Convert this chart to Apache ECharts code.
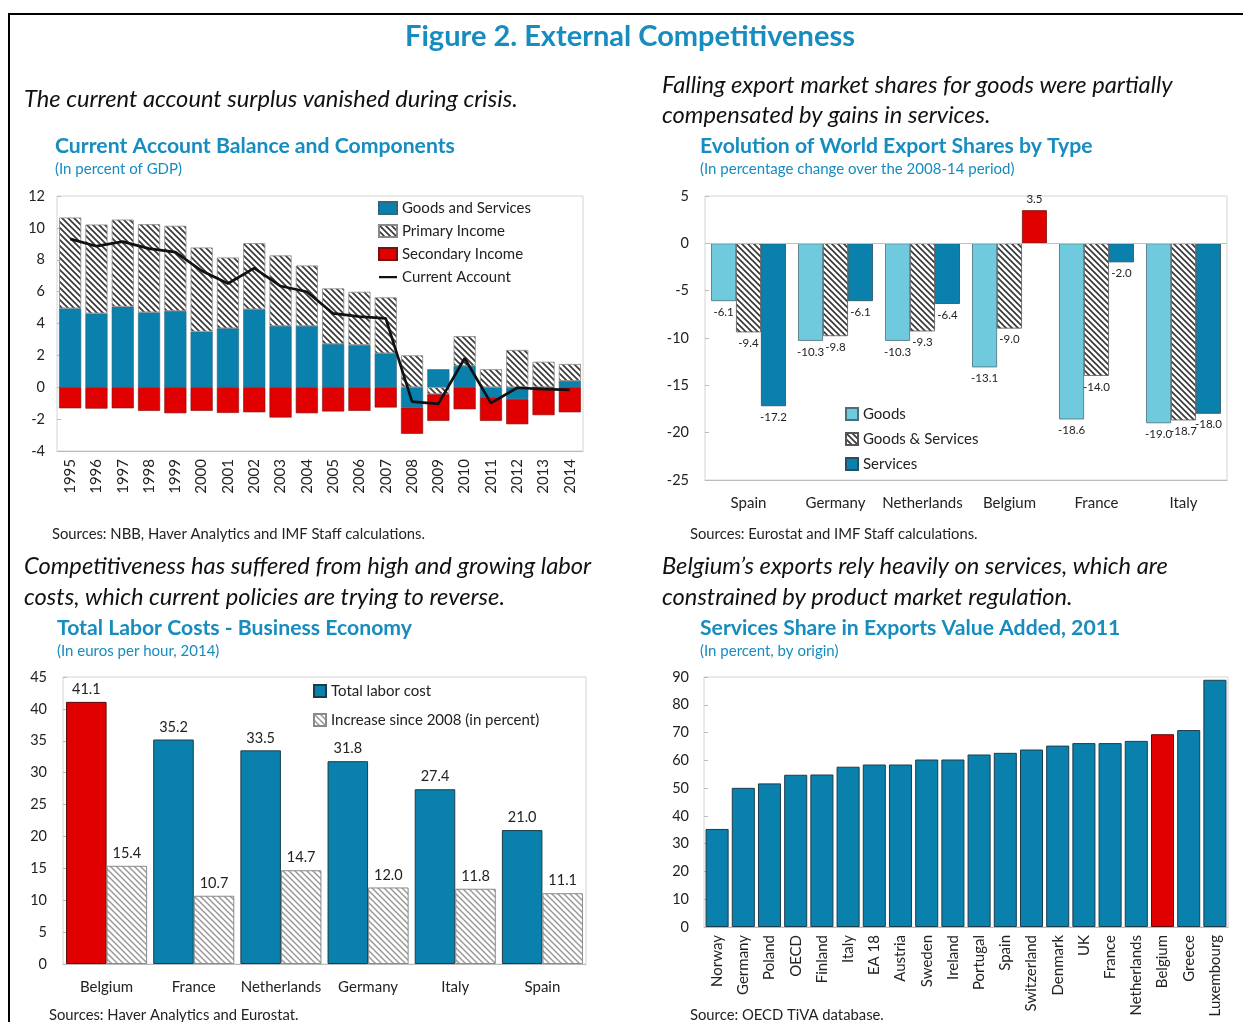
<!DOCTYPE html>
<html>
<head>
<meta charset="utf-8">
<script src="https://cdn.jsdelivr.net/npm/echarts@6/dist/echarts.min.js"></script>
<style>
  body { margin: 0; background: #fff; }
  #main { width: 1243px; height: 1022px; }
</style>
</head>
<body>
<div id="main"></div>
<script>
// 经常账户
const years = ['1995', '1996', '1997', '1998', '1999', '2000', '2001', '2002', '2003', '2004',
  '2005', '2006', '2007', '2008', '2009', '2010', '2011', '2012', '2013', '2014'];
const goodsServices = [4.95, 4.63, 5.05, 4.7, 4.78, 3.49, 3.7, 4.89, 3.84, 3.84,
  2.71, 2.65, 2.13, -1.27, 1.13, 1.34, -0.63, -0.75, -0.02, 0.4];
const primaryIncome = [5.7, 5.58, 5.47, 5.53, 5.35, 5.28, 4.44, 4.15, 4.43, 3.8,
  3.49, 3.34, 3.51, 2.0, -0.44, 1.87, 1.13, 2.34, 1.6, 1.06];
const secondaryIncome = [-1.32, -1.34, -1.32, -1.48, -1.63, -1.48, -1.61, -1.57, -1.9, -1.63,
  -1.52, -1.48, -1.27, -1.65, -1.67, -1.38, -1.48, -1.57, -1.73, -1.57];
const currentAccount = [9.31, 8.85, 9.14, 8.7, 8.48, 7.31, 6.51, 7.47, 6.35, 5.99,
  4.63, 4.43, 4.32, -0.9, -1.04, 1.82, -1.0, -0.03, -0.12, -0.17];

// 出口份额
const shareCountries = ['Spain', 'Germany', 'Netherlands', 'Belgium', 'France', 'Italy'];
const shareGoods = [-6.1, -10.3, -10.3, -13.1, -18.6, -19.0];
const shareGoodsServices = [-9.4, -9.8, -9.3, -9.0, -14.0, -18.7];
const shareServices = [-17.2, -6.1, -6.4, 3.5, -2.0, -18.0];

// 劳动力成本
const laborCountries = ['Belgium', 'France', 'Netherlands', 'Germany', 'Italy', 'Spain'];
const laborCost = [41.1, 35.2, 33.5, 31.8, 27.4, 21.0];
const laborIncrease = [15.4, 10.7, 14.7, 12.0, 11.8, 11.1];

// 服务业占比
const tivaCountries = ['Norway', 'Germany', 'Poland', 'OECD', 'Finland', 'Italy', 'EA 18', 'Austria',
  'Sweden', 'Ireland', 'Portugal', 'Spain', 'Switzerland', 'Denmark', 'UK', 'France',
  'Netherlands', 'Belgium', 'Greece', 'Luxembourg'];
const servicesShare = [35.3, 50.1, 51.7, 54.8, 54.9, 57.7, 58.5, 58.5, 60.3, 60.3, 62.1,
  62.7, 63.9, 65.3, 66.2, 66.2, 67.0, 69.4, 70.9, 89.0];

const FONT = 'Lato';
const TEAL = '#168cbf';
const BLUE = '#0a80ad';
const RED = '#e00000';
const LIGHT = '#6ecadc';

function hatch(line, width) {
  var c = document.createElement('canvas');
  c.width = 6;
  c.height = 6;
  var g = c.getContext('2d');
  g.fillStyle = '#fff';
  g.fillRect(0, 0, 6, 6);
  g.strokeStyle = line;
  g.lineWidth = width;
  g.beginPath();
  g.moveTo(-1, -1); g.lineTo(7, 7);
  g.moveTo(-1, 5); g.lineTo(1, 7);
  g.moveTo(5, -1); g.lineTo(7, 1);
  g.stroke();
  return { image: c, repeat: 'repeat' };
}
const darkHatch = hatch('#3a3a3a', 1.7);
const lightHatch = hatch('#9a9a9a', 1.5);

function txt(x, y, text, font, fill, align) {
  return {
    type: 'text', x: x, y: y, silent: true,
    style: { text: text, font: font, fill: fill || '#111', align: align || 'left', verticalAlign: 'middle' }
  };
}
const italic = 'italic 23.7px ' + FONT;
const head = 'bold 21.2px ' + FONT;
const sub = '15px ' + FONT;
const src = '14.8px ' + FONT;

var chartDom = document.getElementById('main');
var myChart = echarts.init(chartDom);
var option;

function yAx(idx, min, max, interval, margin) {
  return {
    type: 'value', gridIndex: idx, min: min, max: max, interval: interval,
    splitLine: { show: false },
    axisLine: { show: false },
    axisTick: { show: true, inside: true, length: 4, lineStyle: { color: '#bbb' } },
    axisLabel: { fontFamily: FONT, fontSize: 14.5, color: '#222', margin: margin }
  };
}
function xAx(idx, data, rotate, margin) {
  return {
    type: 'category', gridIndex: idx, data: data,
    axisLine: { onZero: false, lineStyle: { color: '#bbb' } },
    axisTick: { show: false },
    axisLabel: { fontFamily: FONT, fontSize: 15, color: '#222', rotate: rotate, margin: margin, interval: 0 }
  };
}
const gridBase = { show: true, borderColor: '#d4d4d4', borderWidth: 1, containLabel: false };
const legendText = { fontFamily: FONT, fontSize: 15, color: '#222', lineHeight: 16 };
// 图例里的细线
const lineIcon = 'path://M0,0 L0.01,0 L0.01,0.01 Z M0,5 H18 V7.2 H0 Z M17.99,12 L18,12 L18,11.99 Z';

option = {
  animation: false,
  backgroundColor: '#fff',
  graphic: [
    { type: 'rect', silent: true, shape: { x: 9, y: 14, width: 1260, height: 1040 },
      style: { fill: 'none', stroke: '#000', lineWidth: 2 } },
    txt(630, 37, 'Figure 2. External Competitiveness', 'bold 29px ' + FONT, TEAL, 'center'),
    txt(24, 99, 'The current account surplus vanished during crisis.', italic),
    txt(662, 85, 'Falling export market shares for goods were partially', italic),
    txt(662, 115, 'compensated by gains in services.', italic),
    txt(55, 146, 'Current Account Balance and Components', head, TEAL),
    txt(55, 169, '(In percent of GDP)', sub, TEAL),
    txt(700, 146, 'Evolution of World Export Shares by Type', head, TEAL),
    txt(700, 169, '(In percentage change over the 2008-14 period)', sub, TEAL),
    txt(52, 534, 'Sources: NBB, Haver Analytics and IMF Staff calculations.', src, '#222'),
    txt(690, 534, 'Sources: Eurostat and IMF Staff calculations.', src, '#222'),
    txt(24, 566, 'Competitiveness has suffered from high and growing labor', italic),
    txt(24, 597, 'costs, which current policies are trying to reverse.', italic),
    txt(662, 566, 'Belgium\u2019s exports rely heavily on services, which are', italic),
    txt(662, 597, 'constrained by product market regulation.', italic),
    txt(57, 628, 'Total Labor Costs - Business Economy', head, TEAL),
    txt(57, 651, '(In euros per hour, 2014)', sub, TEAL),
    txt(700, 628, 'Services Share in Exports Value Added, 2011', head, TEAL),
    txt(700, 651, '(In percent, by origin)', sub, TEAL),
    txt(49, 1015, 'Sources: Haver Analytics and Eurostat.', src, '#222'),
    txt(690, 1015, 'Source: OECD TiVA database.', src, '#222')
  ],
  legend: [
    {
      orient: 'vertical', left: 378, top: 200, padding: 0, itemGap: 7,
      itemWidth: 18, itemHeight: 12, textStyle: legendText, icon: 'rect',
      data: ['Goods and Services', 'Primary Income', 'Secondary Income',
        { name: 'Current Account', icon: lineIcon }]
    },
    {
      orient: 'vertical', left: 845, top: 406, padding: 0, itemGap: 9,
      itemWidth: 12, itemHeight: 12, textStyle: legendText, icon: 'rect',
      data: ['Goods', 'Goods & Services', 'Services']
    },
    {
      orient: 'vertical', left: 313, top: 683, padding: 0, itemGap: 13,
      itemWidth: 12, itemHeight: 12, textStyle: legendText, icon: 'rect',
      data: ['Total labor cost', 'Increase since 2008 (in percent)']
    }
  ],
  grid: [
    Object.assign({ left: 57, top: 196, width: 526, height: 255 }, gridBase),
    Object.assign({ left: 705, top: 196, width: 522, height: 284 }, gridBase),
    Object.assign({ left: 63, top: 677, width: 523, height: 287 }, gridBase),
    Object.assign({ left: 704, top: 677, width: 524, height: 250 }, gridBase)
  ],
  xAxis: [
    xAx(0, years, 90, 8),
    xAx(1, shareCountries, 0, 16),
    xAx(2, laborCountries, 0, 16),
    xAx(3, tivaCountries, 90, 8)
  ],
  yAxis: [
    yAx(0, -4, 12, 2, 12),
    yAx(1, -25, 5, 5, 16),
    yAx(2, 0, 45, 5, 16),
    yAx(3, 0, 90, 10, 15)
  ],
  series: [
    {
      name: 'Goods and Services', type: 'bar', stack: 'ca', xAxisIndex: 0, yAxisIndex: 0,
      barCategoryGap: '16%', data: goodsServices,
      itemStyle: { color: BLUE, borderColor: '#35677c', borderWidth: 0.6 }
    },
    {
      name: 'Primary Income', type: 'bar', stack: 'ca', xAxisIndex: 0, yAxisIndex: 0,
      data: primaryIncome,
      itemStyle: { color: darkHatch, borderColor: '#888', borderWidth: 0.8 }
    },
    {
      name: 'Secondary Income', type: 'bar', stack: 'ca', xAxisIndex: 0, yAxisIndex: 0,
      data: secondaryIncome,
      itemStyle: { color: RED, borderColor: '#7a1010', borderWidth: 0.6 }
    },
    {
      name: 'Current Account', type: 'line', xAxisIndex: 0, yAxisIndex: 0,
      data: currentAccount, symbol: 'none', z: 5,
      lineStyle: { color: '#111', width: 2.7 }, itemStyle: { color: '#111' }
    },
    {
      name: 'Goods', type: 'bar', xAxisIndex: 1, yAxisIndex: 1,
      barGap: '0%', barCategoryGap: '14%', data: shareGoods,
      itemStyle: { color: LIGHT, borderColor: '#4a6f78', borderWidth: 0.8 },
      label: { show: true, position: 'bottom', fontFamily: FONT, fontSize: 11.5, color: '#222',
        formatter: p => p.value.toFixed(1) },
      markLine: {
        silent: true, symbol: 'none', label: { show: false },
        lineStyle: { color: '#c0c0c0', width: 1, type: 'solid' },
        data: [{ yAxis: 0 }]
      }
    },
    {
      name: 'Goods & Services', type: 'bar', xAxisIndex: 1, yAxisIndex: 1,
      data: shareGoodsServices,
      itemStyle: { color: darkHatch, borderColor: '#555', borderWidth: 0.8 },
      label: { show: true, position: 'bottom', fontFamily: FONT, fontSize: 11.5, color: '#222',
        formatter: p => p.value.toFixed(1) }
    },
    {
      name: 'Services', type: 'bar', xAxisIndex: 1, yAxisIndex: 1,
      data: shareServices.map((v, i) => ({
        value: v,
        itemStyle: shareCountries[i] === 'Belgium' && v > 0 ? { color: RED, borderColor: '#7a1010' } : undefined,
        label: { position: v > 0 ? 'top' : 'bottom' }
      })),
      itemStyle: { color: BLUE, borderColor: '#274f60', borderWidth: 0.8 },
      label: { show: true, fontFamily: FONT, fontSize: 11.5, color: '#222',
        formatter: p => p.value.toFixed(1) }
    },
    {
      name: 'Total labor cost', type: 'bar', xAxisIndex: 2, yAxisIndex: 2,
      barGap: '0%', barCategoryGap: '7%',
      data: laborCost.map((v, i) => ({
        value: v,
        itemStyle: laborCountries[i] === 'Belgium' ? { color: RED, borderColor: '#5a0a0a' } : undefined
      })),
      itemStyle: { color: BLUE, borderColor: '#1d3c4a', borderWidth: 1 },
      label: { show: true, position: 'top', fontFamily: FONT, fontSize: 14.5, color: '#222',
        formatter: p => p.value.toFixed(1) }
    },
    {
      name: 'Increase since 2008 (in percent)', type: 'bar', xAxisIndex: 2, yAxisIndex: 2,
      data: laborIncrease,
      itemStyle: { color: lightHatch, borderColor: '#8a8a8a', borderWidth: 1 },
      label: { show: true, position: 'top', fontFamily: FONT, fontSize: 14.5, color: '#222',
        formatter: p => p.value.toFixed(1) }
    },
    {
      name: 'Services share', type: 'bar', xAxisIndex: 3, yAxisIndex: 3,
      barCategoryGap: '12%',
      data: servicesShare.map((v, i) => ({
        value: v,
        itemStyle: tivaCountries[i] === 'Belgium' ? { color: RED, borderColor: '#5a0a0a' } : undefined
      })),
      itemStyle: { color: BLUE, borderColor: '#1d3c4a', borderWidth: 1 }
    }
  ]
};

myChart.setOption(option);
</script>
</body>
</html>
